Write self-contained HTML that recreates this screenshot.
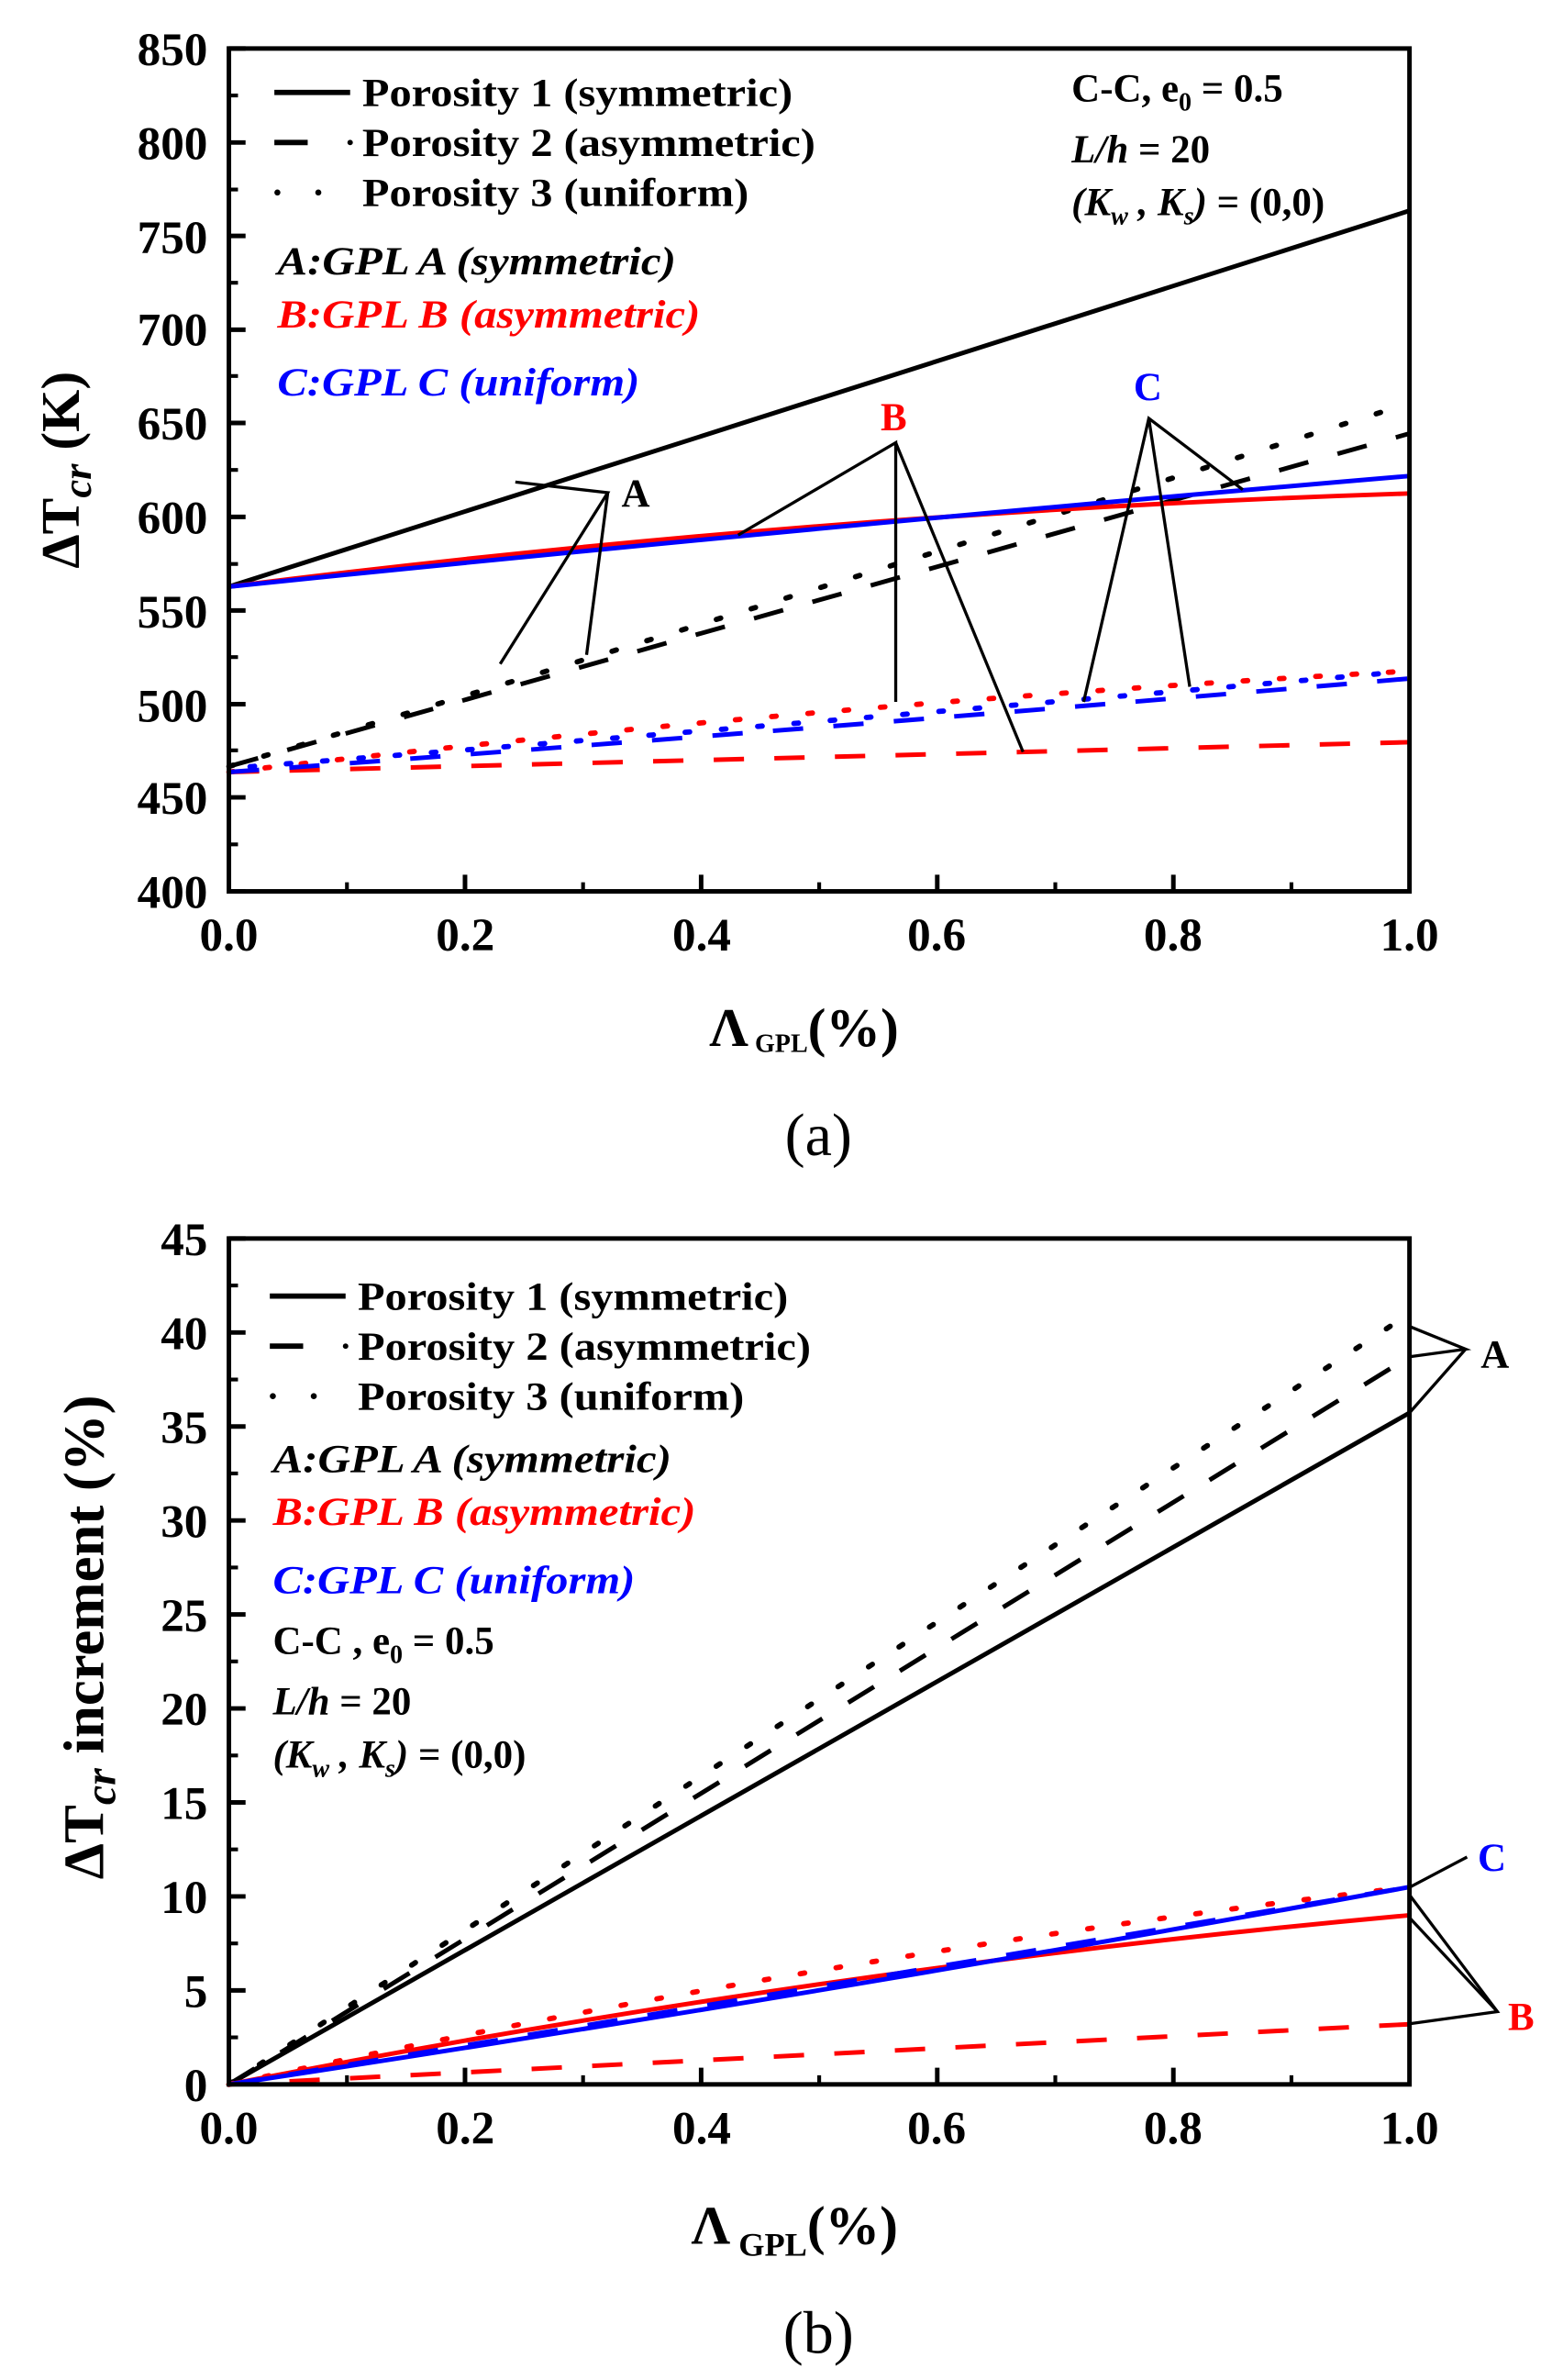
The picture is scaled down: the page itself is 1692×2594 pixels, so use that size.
<!DOCTYPE html>
<html><head><meta charset="utf-8"><style>html,body{margin:0;padding:0;background:#fff}svg{display:block}</style></head><body>
<svg width="1692" height="2594" viewBox="0 0 1024 1570" xmlns="http://www.w3.org/2000/svg" font-family="Liberation Serif, serif">
<!-- ===== Panel (a) ===== -->
<g fill="none" stroke-linecap="butt">
<line x1="151" y1="387" x2="930" y2="139" stroke="#000" stroke-width="3"/>
<path d="M151 505.6 L930 286" stroke="#000" stroke-width="3" stroke-dasharray="20 20"/>
<path d="M151 505.6 Q540 390 930 266" stroke="#000" stroke-width="3.5" stroke-dasharray="3 21" stroke-linecap="round"/>
<path d="M151 387 Q540 338 930 325.5" stroke="#f00" stroke-width="3"/>
<path d="M151 387 Q540 347 930 314" stroke="#00f" stroke-width="3"/>
<path d="M151 509.3 L930 489.6" stroke="#f00" stroke-width="3" stroke-dasharray="20 20"/>
<path d="M151 509.3 Q540 464 930 442.7" stroke="#f00" stroke-width="3.5" stroke-dasharray="3 21" stroke-linecap="round"/>
<path d="M151 509.3 Q540 481 930 447.6" stroke="#00f" stroke-width="3" stroke-dasharray="20 20"/>
<path d="M151 506.8 Q540 477 930 442.7" stroke="#00f" stroke-width="3.5" stroke-dasharray="3 21" stroke-dashoffset="10" stroke-linecap="round"/>
<g stroke="#000" stroke-width="2">
<polyline points="340,318 401,325 330,438"/>
<polyline points="401,325 387,432"/>
<polyline points="487,353 591,292 591,463"/>
<polyline points="591,292 675,496"/>
<polyline points="820,323 758,276 715,463"/>
<polyline points="758,276 785,453"/>
</g>
<rect x="151" y="32" width="779" height="556" stroke="#000" stroke-width="3"/>
<g stroke="#000" stroke-width="3">
<path d="M151 32h11M151 94h11M151 155.6h11M151 217.5h11M151 279h11M151 341h11M151 402.7h11M151 464.5h11M151 526h11M151 588h11"/>
<path d="M151 63h6M151 125h6M151 186.5h6M151 248h6M151 310h6M151 372h6M151 433.5h6M151 495h6M151 557h6" stroke-width="2.5"/>
<path d="M306.8 588v-11M462.6 588v-11M618.4 588v-11M774.2 588v-11"/>
<path d="M228.9 588v-6M384.7 588v-6M540.5 588v-6M696.3 588v-6M852.1 588v-6" stroke-width="2.5"/>
</g>
<line x1="181" y1="61" x2="231" y2="61" stroke="#000" stroke-width="3.5"/>
<line x1="181" y1="94" x2="203" y2="94" stroke="#000" stroke-width="3.5"/>
<circle cx="231" cy="94" r="1.8" fill="#000" stroke="none"/>
<circle cx="183" cy="127" r="2" fill="#000" stroke="none"/>
<circle cx="210" cy="127" r="2" fill="#000" stroke="none"/>
</g>
<g font-weight="bold" font-size="31" text-anchor="end" fill="#000">
<text x="137" y="43">850</text><text x="137" y="105">800</text><text x="137" y="167">750</text><text x="137" y="228">700</text><text x="137" y="290">650</text><text x="137" y="352">600</text><text x="137" y="414">550</text><text x="137" y="476">500</text><text x="137" y="537">450</text><text x="137" y="599">400</text>
</g>
<g font-weight="bold" font-size="31" text-anchor="middle" fill="#000">
<text x="151" y="627">0.0</text><text x="307" y="627">0.2</text><text x="463" y="627">0.4</text><text x="618" y="627">0.6</text><text x="774" y="627">0.8</text><text x="930" y="627">1.0</text>
</g>
<g font-weight="bold" font-size="26" fill="#000">
<text x="239" y="70" textLength="284" lengthAdjust="spacingAndGlyphs">Porosity 1 (symmetric)</text>
<text x="239" y="103" textLength="299" lengthAdjust="spacingAndGlyphs">Porosity 2 (asymmetric)</text>
<text x="239" y="136" textLength="255" lengthAdjust="spacingAndGlyphs">Porosity 3 (uniform)</text>
<text x="183" y="181" font-style="italic" textLength="263" lengthAdjust="spacingAndGlyphs">A:GPL A (symmetric)</text>
<text x="183" y="216" font-style="italic" fill="#f00" textLength="279" lengthAdjust="spacingAndGlyphs">B:GPL B (asymmetric)</text>
<text x="183" y="261" font-style="italic" fill="#00f" textLength="239" lengthAdjust="spacingAndGlyphs">C:GPL C (uniform)</text>
<text x="707" y="67">C-C, e<tspan font-size="17" dy="6">0</tspan><tspan dy="-6"> = 0.5</tspan></text>
<text x="707" y="107"><tspan font-style="italic">L/h</tspan> = 20</text>
<text x="707" y="142"><tspan font-style="italic">(K<tspan font-size="17" dy="6">w</tspan><tspan dy="-6"> , K</tspan><tspan font-size="17" dy="6">s</tspan><tspan dy="-6">)</tspan></tspan> = (0,0)</text>
<text x="410" y="334">A</text>
<text x="581" y="284" fill="#f00">B</text>
<text x="748" y="264" fill="#00f">C</text>
</g>
<text transform="translate(52,310) rotate(-90)" font-weight="bold" font-size="36" text-anchor="middle">ΔT<tspan font-style="italic" font-size="27" dy="8">cr</tspan><tspan dy="-8"> (K)</tspan></text>
<text x="468" y="690" font-weight="bold" font-size="36">Λ<tspan font-size="17" dy="4"> GPL</tspan><tspan dy="-4">(%)</tspan></text>
<text x="540" y="762" font-size="40" text-anchor="middle">(a)</text>

<!-- ===== Panel (b) ===== -->
<g fill="none">
<line x1="151" y1="1375" x2="930" y2="932" stroke="#000" stroke-width="3"/>
<path d="M151 1375 L930 895" stroke="#000" stroke-width="3" stroke-dasharray="20 20"/>
<path d="M151 1375 L930 866.6" stroke="#000" stroke-width="3.5" stroke-dasharray="3 21" stroke-linecap="round"/>
<path d="M151 1375 Q540 1298.8 930 1263.4" stroke="#f00" stroke-width="3"/>
<path d="M151 1375 L930 1335.3" stroke="#f00" stroke-width="3" stroke-dasharray="20 20"/>
<path d="M151 1375 Q540 1290 930 1244.8" stroke="#f00" stroke-width="3.5" stroke-dasharray="3 21" stroke-linecap="round"/>
<path d="M151 1375 Q540 1316 930 1244.8" stroke="#00f" stroke-width="3"/>
<path d="M151 1375 Q540 1311 930 1244.8" stroke="#00f" stroke-width="3" stroke-dasharray="20 20"/>
<g stroke="#000" stroke-width="2">
<polyline points="930,875 967,890 930,895"/>
<polyline points="967,890 930,932"/>
<polyline points="930,1245 968,1225"/>
<polyline points="930,1250 988,1327 930,1335"/>
<polyline points="930,1265 988,1327"/>
</g>
<rect x="151" y="817" width="779" height="558" stroke="#000" stroke-width="3"/>
<g stroke="#000" stroke-width="3">
<path d="M151 817h11M151 879h11M151 941h11M151 1003h11M151 1065h11M151 1127h11M151 1189h11M151 1251h11M151 1313h11"/>
<path d="M151 848h6M151 910h6M151 972h6M151 1034h6M151 1096h6M151 1158h6M151 1220h6M151 1282h6M151 1344h6" stroke-width="2.5"/>
<path d="M306.8 1375v-11M462.6 1375v-11M618.4 1375v-11M774.2 1375v-11"/>
<path d="M228.9 1375v-6M384.7 1375v-6M540.5 1375v-6M696.3 1375v-6M852.1 1375v-6" stroke-width="2.5"/>
</g>
<line x1="178" y1="855" x2="228" y2="855" stroke="#000" stroke-width="3.5"/>
<line x1="178" y1="888" x2="200" y2="888" stroke="#000" stroke-width="3.5"/>
<circle cx="228" cy="888" r="1.8" fill="#000"/>
<circle cx="180" cy="921" r="2" fill="#000"/>
<circle cx="207" cy="921" r="2" fill="#000"/>
</g>
<g font-weight="bold" font-size="31" text-anchor="end" fill="#000">
<text x="137" y="828">45</text><text x="137" y="890">40</text><text x="137" y="952">35</text><text x="137" y="1014">30</text><text x="137" y="1076">25</text><text x="137" y="1138">20</text><text x="137" y="1200">15</text><text x="137" y="1262">10</text><text x="137" y="1324">5</text><text x="137" y="1386">0</text>
</g>
<g font-weight="bold" font-size="31" text-anchor="middle" fill="#000">
<text x="151" y="1414">0.0</text><text x="307" y="1414">0.2</text><text x="463" y="1414">0.4</text><text x="618" y="1414">0.6</text><text x="774" y="1414">0.8</text><text x="930" y="1414">1.0</text>
</g>
<g font-weight="bold" font-size="26" fill="#000">
<text x="236" y="864" textLength="284" lengthAdjust="spacingAndGlyphs">Porosity 1 (symmetric)</text>
<text x="236" y="897" textLength="299" lengthAdjust="spacingAndGlyphs">Porosity 2 (asymmetric)</text>
<text x="236" y="930" textLength="255" lengthAdjust="spacingAndGlyphs">Porosity 3 (uniform)</text>
<text x="180" y="971" font-style="italic" textLength="263" lengthAdjust="spacingAndGlyphs">A:GPL A (symmetric)</text>
<text x="180" y="1006" font-style="italic" fill="#f00" textLength="279" lengthAdjust="spacingAndGlyphs">B:GPL B (asymmetric)</text>
<text x="180" y="1051" font-style="italic" fill="#00f" textLength="239" lengthAdjust="spacingAndGlyphs">C:GPL C (uniform)</text>
<text x="180" y="1091">C-C , e<tspan font-size="17" dy="6">0</tspan><tspan dy="-6"> = 0.5</tspan></text>
<text x="180" y="1131"><tspan font-style="italic">L/h</tspan> = 20</text>
<text x="180" y="1166"><tspan font-style="italic">(K<tspan font-size="17" dy="6">w</tspan><tspan dy="-6"> , K</tspan><tspan font-size="17" dy="6">s</tspan><tspan dy="-6">)</tspan></tspan> = (0,0)</text>
<text x="977" y="902">A</text>
<text x="975" y="1234" fill="#00f">C</text>
<text x="995" y="1339" fill="#f00">B</text>
</g>
<text transform="translate(68,1080) rotate(-90)" font-weight="bold" font-size="38" text-anchor="middle">ΔT<tspan font-style="italic" font-size="29" dy="8">cr</tspan><tspan dy="-8">  increment (%)</tspan></text>
<text x="456" y="1480" font-weight="bold" font-size="36">Λ<tspan font-size="22" dy="8"> GPL</tspan><tspan dy="-8">(%)</tspan></text>
<text x="540" y="1552" font-size="40" text-anchor="middle">(b)</text>
</svg>
</body></html>
